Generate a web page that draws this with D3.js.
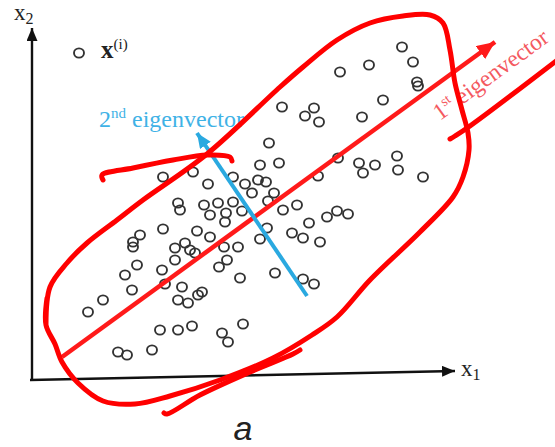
<!DOCTYPE html>
<html>
<head>
<meta charset="utf-8">
<script src="https://cdn.jsdelivr.net/npm/d3@7"></script>
<style>
  html, body { margin: 0; padding: 0; background: #fff; }
  svg { display: block; }
</style>
</head>
<body>
<div id="chart"></div>
<script>
// ---- data (x1, x2 values of the sample points) ----
const pointsX1 = [372,383,387,388,339,310,353,284,275,289,332,252,308,329,333,345,367,368,393,288,
  239,230,249,133,163,178,203,215,228,236,222,244,148,150,174,188,203,180,196,195,
  212,238,253,267,297,307,318,133,110,103,103,167,180,145,155,160,165,194,208,230,
  237,262,273,279,290,107,95,145,132,135,197,189,210,152,102,73,58,148,158,168,
  172,130,148,162,192,198,213,88,97,122,245,273,284];
const pointsX2 = [333,318,298,294,315,308,280,272,264,258,263,273,222,217,207,215,224,210,203,204,
  237,215,217,203,208,196,203,196,200,198,187,187,177,170,175,177,178,165,167,158,
  169,179,170,175,163,169,166,151,145,138,133,149,143,132,137,130,127,133,133,141,
  152,147,142,157,138,115,105,120,110,96,120,113,102,93,90,80,68,80,77,85,
  88,50,50,54,47,38,56,28,25,30,107,101,96];
const legendPoint = [49, 327];

// eigenvectors: [start, end]
const eig1 = [[32, 23], [465, 338]];
const eig2 = [[277, 84], [167, 247]];

// hand-drawn annotation strokes (in the same x1/x2 units)
const loopX1 = [16,20,37,57,87,113,177,250,273,307,340,373,400,413,420,425,432,438,439,433,423,390,340,307,282,243,190,140,105,73,48,32,25,16,17];
const loopX2 = [55,93,117,137,160,180,226,293,313,340,357,364,365,357,330,297,270,247,230,203,183,148,100,63,45,22,0,-16,-24,-21,-3,18,36,55,82];
const lowerX1 = [270,263,220,170,137,134];
const lowerX2 = [30,26,8,-15,-34,-33];
const crossX1 = [73,72,103,143,177,200,202];
const crossX2 = [200,205,212,220,225,223,219];
const tailX1 = [420,425,440,530];
const tailX2 = [241,244,254,322];

// ---- layout ----
const W = 555, H = 447;
const svg = d3.select("#chart").append("svg").attr("width", W).attr("height", H);

const x = d3.scaleLinear().domain([0, 425]).range([30, 455]);
const y = d3.scaleLinear().domain([0, 352]).range([380, 28]);

const defs = svg.append("defs");
function marker(id, color, len, wid) {
  defs.append("marker").attr("id", id)
    .attr("viewBox", `0 ${-wid/2} ${len} ${wid}`)
    .attr("refX", len).attr("refY", 0)
    .attr("markerUnits", "userSpaceOnUse")
    .attr("markerWidth", len).attr("markerHeight", wid)
    .attr("orient", "auto")
    .append("path").attr("d", `M0,${-wid/2}L${len},0L0,${wid/2}Z`).attr("fill", color);
}
marker("axArrow", "#111", 13, 11);
marker("redArrow", "#ff1a1a", 18, 16);
marker("blueArrow", "#2aa9e0", 15, 13);

// axes
svg.append("line")
  .attr("x1", x(2)).attr("y1", y(0)).attr("x2", x(2)).attr("y2", y(352))
  .attr("stroke", "#111").attr("stroke-width", 2.4).attr("marker-end", "url(#axArrow)");
svg.append("line")
  .attr("x1", x(0)).attr("y1", y(0)).attr("x2", x(425)).attr("y2", y(9))
  .attr("stroke", "#111").attr("stroke-width", 2.4).attr("marker-end", "url(#axArrow)");

// axis labels
const serif = "'Liberation Serif', 'DejaVu Serif', serif";
const x2lab = svg.append("text").attr("x", 14).attr("y", 20)
  .attr("font-family", serif).attr("font-size", 23).attr("fill", "#222");
x2lab.append("tspan").text("x");
x2lab.append("tspan").attr("font-size", 16).attr("dy", 4).text("2");
const x1lab = svg.append("text").attr("x", 461).attr("y", 376)
  .attr("font-family", serif).attr("font-size", 23).attr("fill", "#222");
x1lab.append("tspan").text("x");
x1lab.append("tspan").attr("font-size", 16).attr("dy", 4).text("1");

// points
const pts = pointsX1.map((v, i) => ({ x1: v, x2: pointsX2[i] }));
svg.append("g").selectAll("ellipse").data(pts).join("ellipse")
  .attr("cx", d => x(d.x1)).attr("cy", d => y(d.x2))
  .attr("rx", 5).attr("ry", 4.6)
  .attr("fill", "none").attr("stroke", "#333").attr("stroke-width", 1.9);

// legend
svg.append("ellipse").attr("cx", x(legendPoint[0])).attr("cy", y(legendPoint[1]))
  .attr("rx", 5).attr("ry", 4.6).attr("fill", "none").attr("stroke", "#333").attr("stroke-width", 1.9);
const lg = svg.append("text").attr("x", 101).attr("y", 58)
  .attr("font-family", serif).attr("fill", "#222");
lg.append("tspan").attr("font-size", 25).attr("font-weight", "bold").text("x");
lg.append("tspan").attr("font-size", 15).attr("dy", -9).text("(i)");

// eigenvector arrows
svg.append("line")
  .attr("x1", x(eig1[0][0])).attr("y1", y(eig1[0][1]))
  .attr("x2", x(eig1[1][0])).attr("y2", y(eig1[1][1]))
  .attr("stroke", "#ff1a1a").attr("stroke-width", 4.5).attr("marker-end", "url(#redArrow)");
svg.append("line")
  .attr("x1", x(eig2[0][0])).attr("y1", y(eig2[0][1]))
  .attr("x2", x(eig2[1][0])).attr("y2", y(eig2[1][1]))
  .attr("stroke", "#2aa9e0").attr("stroke-width", 4).attr("marker-end", "url(#blueArrow)");

// eigenvector labels
const t2 = svg.append("text").attr("x", 99).attr("y", 127)
  .attr("font-family", serif).attr("font-size", 24).attr("fill", "#3fb2e6");
t2.append("tspan").text("2");
t2.append("tspan").attr("font-size", 15).attr("dy", -9).text("nd");
t2.append("tspan").attr("dy", 9).text(" eigenvector");

const ang = Math.atan2(y(eig1[1][1]) - y(eig1[0][1]), x(eig1[1][0]) - x(eig1[0][0])) * 180 / Math.PI;
const t1 = svg.append("text")
  .attr("transform", `translate(440,121) rotate(${ang})`)
  .attr("font-family", serif).attr("font-size", 23.5).attr("fill", "#f4595f");
t1.append("tspan").text("1");
t1.append("tspan").attr("font-size", 14).attr("dy", -9).text("st");
t1.append("tspan").attr("dy", 9).text(" eigenvector");

// hand-drawn red strokes
const line = d3.line().x(d => x(d[0])).y(d => y(d[1])).curve(d3.curveCatmullRom.alpha(0.5));
function stroke(xs, ys) {
  svg.append("path").datum(xs.map((v, i) => [v, ys[i]]))
    .attr("d", line).attr("fill", "none").attr("stroke", "#ff0000")
    .attr("stroke-width", 5).attr("stroke-linecap", "round").attr("stroke-linejoin", "round");
}
stroke(loopX1, loopX2);
stroke(lowerX1, lowerX2);
stroke(crossX1, crossX2);
stroke(tailX1, tailX2);

// caption
svg.append("text").attr("x", 243).attr("y", 440).attr("text-anchor", "middle")
  .attr("font-family", "'Liberation Sans', Arial, sans-serif").attr("font-style", "italic")
  .attr("font-size", 34).attr("fill", "#222").text("a");
</script>
</body>
</html>
